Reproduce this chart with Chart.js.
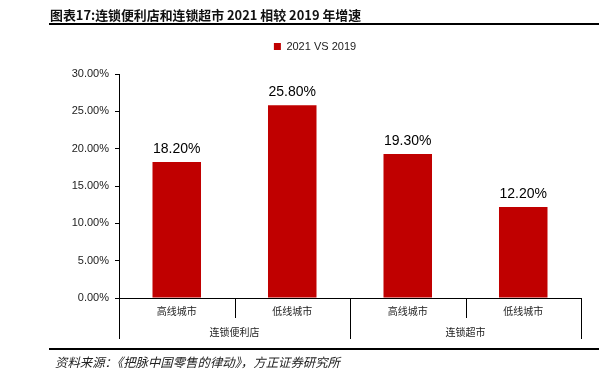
<!DOCTYPE html>
<html>
<head>
<meta charset="utf-8">
<script src="https://cdn.jsdelivr.net/npm/chart.js@4"></script>
<style>
  html, body { margin: 0; padding: 0; background: #fff; }
  #wrap { position: relative; width: 607px; height: 383px; overflow: hidden; }
  #chart { position: absolute; left: 0; top: 0; }
  .title { position: absolute; left: 50px; top: 5px; font: bold 12.9px "Noto Sans CJK SC", sans-serif; color: #111; white-space: nowrap; }
  .rule { position: absolute; left: 49px; width: 550px; height: 2px; background: #000; }
  .source { position: absolute; left: 55px; top: 353px; font: italic 12.4px "Noto Sans CJK SC", sans-serif; color: #222; white-space: nowrap; }
</style>
</head>
<body>
<div id="wrap">
  <canvas id="chart" width="607" height="383"></canvas>
  <div class="title">图表17:连锁便利店和连锁超市 2021 相较 2019 年增速</div>
  <div class="rule" style="top:23px"></div>
  <div class="rule" style="top:348px"></div>
  <div class="source">资料来源：《把脉中国零售的律动》，方正证券研究所</div>
</div>
<script>
// dati del grafico
const cityTiers = ["高线城市", "低线城市", "高线城市", "低线城市"];
const groups = ["连锁便利店", "连锁超市"];
const groupSpan = [2, 2];
const growth = [18.2, 25.8, 19.3, 12.2];
const seriesName = "2021 VS 2019";
const yTicks = [0, 5, 10, 15, 20, 25, 30];

const RED = "#c00000";

// etichette sopra le barre + asse a due livelli
const extras = {
  id: "extras",
  afterDatasetsDraw(chart) {
    const ctx = chart.ctx;
    const meta = chart.getDatasetMeta(0);
    ctx.save();
    ctx.fillStyle = "#000";
    ctx.font = "14px Arial, 'Liberation Sans', sans-serif";
    ctx.textAlign = "center";
    ctx.textBaseline = "bottom";
    meta.data.forEach((bar, i) => {
      ctx.fillText(growth[i].toFixed(2) + "%", bar.x, bar.y - 6);
    });

    const x = chart.scales.x;
    const top = x.top;
    const half = (x.getPixelForValue(1) - x.getPixelForValue(0)) / 2;
    ctx.strokeStyle = "#000";
    ctx.lineWidth = 1;
    // separatori
    let idx = 0;
    const longAt = [0];
    groupSpan.forEach(n => { idx += n; longAt.push(idx); });
    for (let i = 0; i <= cityTiers.length; i++) {
      const px = Math.round(x.getPixelForValue(i) - half) + 0.5;
      const len = longAt.includes(i) ? 41 : 20;
      ctx.beginPath();
      ctx.moveTo(px, top);
      ctx.lineTo(px, top + len);
      ctx.stroke();
    }
    // gruppi
    ctx.fillStyle = "#222";
    ctx.font = "10px 'Noto Sans CJK SC', sans-serif";
    ctx.textBaseline = "middle";
    let start = 0;
    groups.forEach((g, k) => {
      const a = x.getPixelForValue(start) - half;
      const b = x.getPixelForValue(start + groupSpan[k] - 1) + half;
      ctx.fillText(g, (a + b) / 2, top + 34);
      start += groupSpan[k];
    });
    ctx.restore();
  }
};

new Chart(document.getElementById("chart"), {
  type: "bar",
  data: {
    labels: cityTiers,
    datasets: [{
      label: seriesName,
      data: growth,
      backgroundColor: RED,
      barPercentage: 0.42,
      categoryPercentage: 1.0
    }]
  },
  options: {
    responsive: false,
    animation: false,
    layout: { padding: { left: 49, right: 26, top: 31, bottom: 0 } },
    plugins: {
      legend: {
        display: true,
        labels: {
          boxWidth: 7, boxHeight: 7, padding: 10,
          color: "#222",
          font: { size: 11, family: "Arial, 'Liberation Sans', sans-serif" }
        }
      },
      // spazio vuoto tra legenda e grafico
      subtitle: {
        display: true, text: " ", weight: 500,
        font: { size: 10, lineHeight: 1.2 },
        padding: 0
      },
      tooltip: { enabled: false }
    },
    scales: {
      y: {
        min: 0, max: 30,
        afterFit: s => { s.width = 70; },
        afterBuildTicks: s => { s.ticks = yTicks.map(v => ({ value: v })); },
        border: { display: true, color: "#000", width: 1 },
        grid: { display: true, drawOnChartArea: false, drawTicks: true, tickLength: 4, color: "#000" },
        ticks: {
          padding: 6,
          color: "#222",
          font: { size: 11, family: "Arial, 'Liberation Sans', sans-serif" },
          callback: v => v.toFixed(2) + "%"
        }
      },
      x: {
        afterFit: s => { s.height = 85; },
        border: { display: true, color: "#000", width: 1 },
        grid: { display: false, drawTicks: false },
        ticks: {
          padding: 7,
          color: "#222",
          maxRotation: 0,
          font: { size: 10, family: "'Noto Sans CJK SC', sans-serif" }
        }
      }
    }
  },
  plugins: [extras]
});
</script>
</body>
</html>
